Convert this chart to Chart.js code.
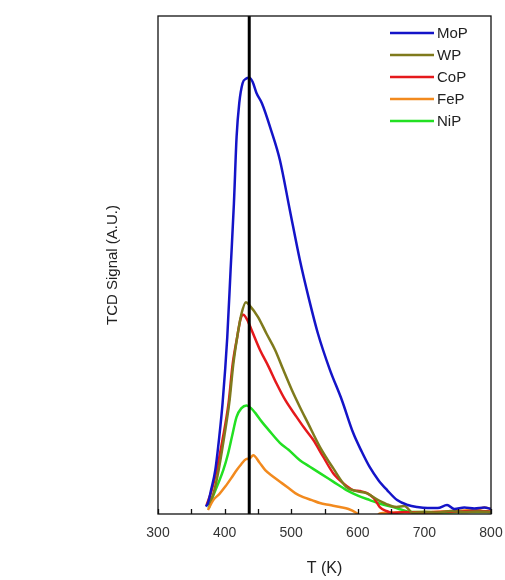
<!DOCTYPE html>
<html>
<head>
<meta charset="utf-8">
<script src="https://cdn.jsdelivr.net/npm/chart.js@4.4.1/dist/chart.umd.min.js"></script>
<style>
  html, body { margin: 0; padding: 0; background: #fff; }
  #wrap { width: 505px; height: 580px; }
</style>
</head>
<body>
<div id="wrap"><canvas id="tpd"></canvas></div>
<script>
// H2-TPD traces, temperature (K) vs TCD signal (arbitrary units)
const seriesNames = ["MoP", "WP", "CoP", "FeP", "NiP"];
const seriesColors = ["#1414c8", "#7f7a1c", "#e5191c", "#f28a1e", "#22e022"];

const mopT = [372, 375, 380, 386, 392, 397, 404, 409, 414, 418, 422, 427, 432, 437, 442, 448, 456, 470, 483, 498, 513, 527, 540, 558, 576, 593, 606, 618, 631, 644, 659, 675, 689, 705, 720, 734, 745, 760, 775, 790, 800];
const mopY = [0.015, 0.022, 0.05, 0.088, 0.155, 0.223, 0.355, 0.49, 0.624, 0.757, 0.825, 0.865, 0.874, 0.876, 0.868, 0.845, 0.825, 0.77, 0.711, 0.61, 0.51, 0.43, 0.363, 0.29, 0.229, 0.163, 0.125, 0.094, 0.068, 0.048, 0.028, 0.018, 0.014, 0.012, 0.012, 0.018, 0.01, 0.013, 0.011, 0.013, 0.01];

const wpT = [375, 383, 391, 400, 407, 413, 419, 425, 432, 438, 450, 463, 476, 488, 501, 513, 525, 543, 563, 583, 598, 613, 628, 643, 658, 670, 683, 700, 720, 740, 760, 780, 800];
const wpY = [0.018, 0.04, 0.088, 0.16, 0.223, 0.3, 0.356, 0.4, 0.425, 0.418, 0.396, 0.362, 0.329, 0.29, 0.249, 0.215, 0.183, 0.135, 0.092, 0.054, 0.046, 0.042, 0.03, 0.02, 0.014, 0.016, 0.002, 0.004, 0.003, 0.006, 0.004, 0.005, 0.004];

const copT = [373, 380, 388, 397, 406, 412, 419, 424, 428, 434, 441, 453, 466, 478, 491, 508, 520, 533, 548, 563, 578, 593, 604, 614, 624, 633, 643, 653, 670, 690, 720, 750, 780, 800];
const copY = [0.018, 0.045, 0.088, 0.15, 0.223, 0.3, 0.356, 0.392, 0.4, 0.39, 0.368, 0.33, 0.296, 0.262, 0.229, 0.195, 0.172, 0.149, 0.115, 0.082, 0.062, 0.048, 0.046, 0.042, 0.032, 0.014, 0.006, 0.002, 0.004, 0.003, 0.004, 0.005, 0.006, 0.005];

const feT = [375, 383, 392, 401, 410, 418, 425, 432, 438, 443, 452, 461, 473, 486, 496, 506, 518, 531, 543, 558, 573, 586, 598, 610, 625, 633, 660, 700, 730, 760, 780, 790, 800];
const feY = [0.008, 0.028, 0.04, 0.055, 0.072, 0.088, 0.1, 0.11, 0.112, 0.118, 0.104, 0.088, 0.075, 0.062, 0.052, 0.042, 0.034, 0.028, 0.022, 0.018, 0.014, 0.01, 0.002, -0.01, -0.01, 0.001, 0.003, 0.004, 0.005, 0.007, 0.009, 0.013, 0.01];

const nipT = [376, 381, 390, 398, 405, 411, 418, 425, 433, 440, 446, 456, 466, 483, 496, 513, 528, 543, 563, 583, 600, 618, 635, 653, 665, 678, 700, 730, 760, 790, 800];
const nipY = [0.011, 0.03, 0.06, 0.088, 0.12, 0.155, 0.195, 0.212, 0.218, 0.212, 0.203, 0.185, 0.169, 0.143, 0.129, 0.108, 0.095, 0.082, 0.065, 0.048, 0.037, 0.028, 0.02, 0.014, 0.009, 0.004, 0.004, 0.003, 0.004, 0.004, 0.004];

const xTicks = [300, 400, 500, 600, 700, 800];
const markerT = 437;

const traces = [[mopT, mopY], [wpT, wpY], [copT, copY], [feT, feY], [nipT, nipY]];

const font = "'Liberation Sans', Arial, sans-serif";

// box, inward ticks, reference line at markerT and the legend inside the plot
const framePlugin = {
  id: "framePlugin",
  afterDatasetsDraw(chart) {
    const { ctx, chartArea: a, scales: { x } } = chart;
    ctx.save();

    const mx = x.getPixelForValue(markerT);
    ctx.strokeStyle = "#000";
    ctx.lineWidth = 3;
    ctx.beginPath();
    ctx.moveTo(mx, a.top);
    ctx.lineTo(mx, a.bottom);
    ctx.stroke();

    ctx.lineWidth = 1.3;
    ctx.strokeStyle = "#111";
    ctx.strokeRect(a.left, a.top, a.right - a.left, a.bottom - a.top);

    ctx.beginPath();
    for (let t = x.min; t <= x.max; t += 50) {
      const px = Math.round(x.getPixelForValue(t)) + 0.5;
      ctx.moveTo(px, a.bottom);
      ctx.lineTo(px, a.bottom - 5);
    }
    ctx.stroke();

    ctx.font = "15px " + font;
    ctx.textBaseline = "middle";
    ctx.fillStyle = "#222";
    chart.data.datasets.forEach((ds, i) => {
      const y = 33 + i * 22;
      ctx.strokeStyle = ds.borderColor;
      ctx.lineWidth = 2.5;
      ctx.beginPath();
      ctx.moveTo(390, y);
      ctx.lineTo(434, y);
      ctx.stroke();
      ctx.fillText(ds.label, 437, y + 1);
    });
    ctx.restore();
  }
};

new Chart(document.getElementById("tpd"), {
  type: "line",
  data: {
    datasets: seriesNames.map((name, i) => ({
      label: name,
      data: traces[i][0].map((t, k) => ({ x: t, y: traces[i][1][k] })),
      borderColor: seriesColors[i],
      borderWidth: 2.5,
      pointRadius: 0,
      cubicInterpolationMode: "monotone",
      fill: false
    }))
  },
  options: {
    responsive: true,
    maintainAspectRatio: false,
    animation: false,
    layout: { padding: { left: 100, right: 14, top: 16, bottom: 0 } },
    plugins: { legend: { display: false }, tooltip: { enabled: false } },
    scales: {
      x: {
        type: "linear",
        min: 300,
        max: 800,
        grid: { display: false, drawTicks: false },
        border: { display: false },
        afterFit: (s) => {
          s.height = 66;
          s.paddingLeft = 0;
          s.paddingRight = 0;
        },
        afterBuildTicks: (s) => { s.ticks = xTicks.map((v) => ({ value: v })); },
        ticks: {
          autoSkip: false,
          maxRotation: 0,
          padding: 11,
          color: "#333",
          font: { family: font, size: 14 }
        },
        title: {
          display: true,
          text: "T (K)",
          color: "#222",
          padding: { top: 0, bottom: 2 },
          font: { family: font, size: 16 }
        }
      },
      y: {
        min: 0,
        max: 1,
        grid: { display: false, drawTicks: false },
        border: { display: false },
        ticks: { display: false },
        afterFit: (s) => { s.width = 58; },
        title: {
          display: true,
          text: "TCD Signal (A.U.)",
          color: "#222",
          padding: { top: 4, bottom: 0 },
          font: { family: font, size: 15 }
        }
      }
    }
  },
  plugins: [framePlugin]
});
</script>
</body>
</html>
